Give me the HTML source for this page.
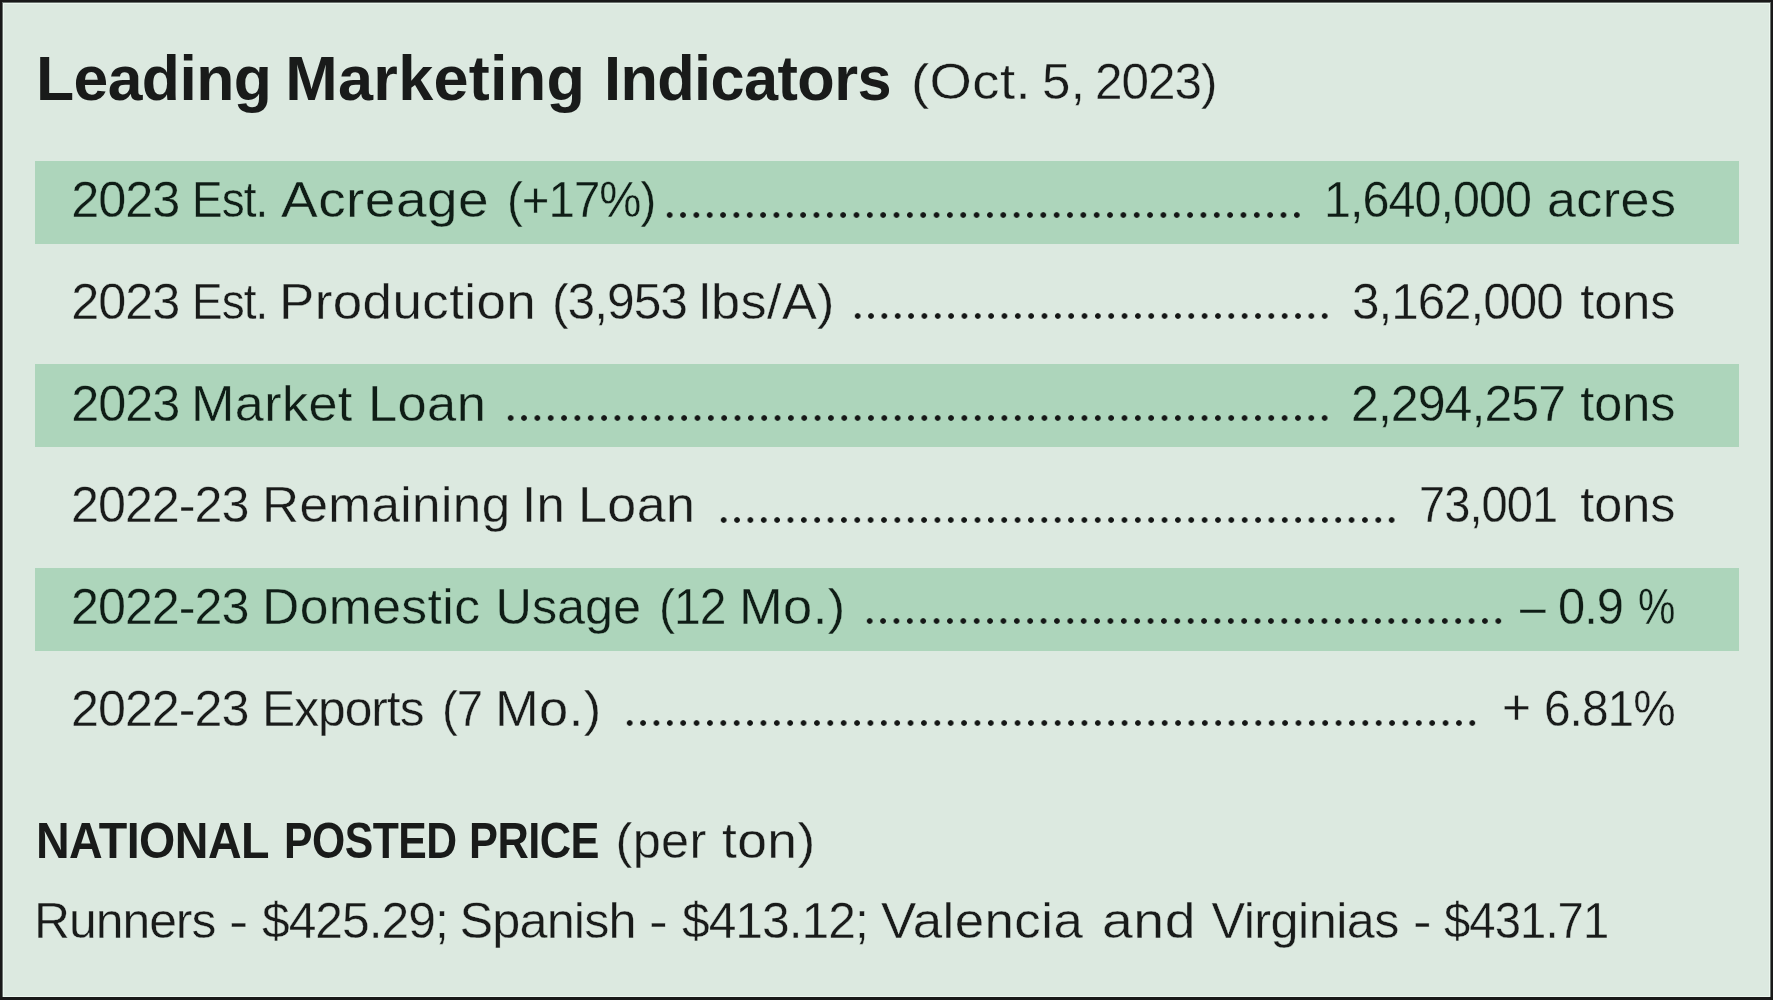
<!DOCTYPE html>
<html><head><meta charset="utf-8"><title>Leading Marketing Indicators</title>
<style>
html,body{margin:0;padding:0}
body{width:1773px;height:1000px;overflow:hidden;background:#dce9e0;position:relative;font-family:"Liberation Sans",sans-serif;color:#191b1a}
.frame{position:absolute;left:0;top:0;width:1773px;height:1000px;box-sizing:border-box;border-style:solid;border-color:#191919;border-width:2px 2px 3px 2px}
.frame2{position:absolute;left:2px;top:2px;width:1769px;height:995px;box-sizing:border-box;border-style:solid;border-color:#6b726e;border-width:1px 1px 0 1px}
.frame3{position:absolute;left:3px;top:3px;width:1767px;height:994px;box-sizing:border-box;border:1px solid #ebf6ee}
.band{position:absolute;left:35px;width:1704px;height:83.3px;background:#add5bb}
.tx{position:absolute;left:0;top:0;width:1773px;height:1000px;will-change:transform}
span{position:absolute;white-space:pre;line-height:1;transform-origin:0 50%}
.r{font-size:50.4px;font-weight:normal;-webkit-text-stroke:0.35px #dce9e0}
.g{-webkit-text-stroke-color:#add5bb;color:#0f1d16}
.b{font-size:50.5px;font-weight:bold}
.t{font-size:63px}
.d{position:absolute;height:8px;background-image:radial-gradient(circle at 50% 50%,#151716 0,#151716 2.4px,rgba(21,23,22,0) 3.2px);background-size:13.36px 8px;background-repeat:repeat-x}
</style></head><body>
<div class="frame"></div><div class="frame2"></div><div class="frame3"></div>
<div class="band" style="top:160.5px"></div>
<div class="band" style="top:364.2px"></div>
<div class="band" style="top:567.8px"></div>
<div class="tx">
<span class="b t" style="left:35.53px;top:46.87px;letter-spacing:-0.60px;transform:scaleX(0.9916)">Leading</span>
<span class="b t" style="left:285.30px;top:46.87px;letter-spacing:0.27px">Marketing</span>
<span class="b t" style="left:603.51px;top:46.87px;letter-spacing:-0.60px;transform:scaleX(0.9723)">Indicators</span>
<span class="r" style="left:910.66px;top:57.14px;letter-spacing:0.40px;transform:scaleX(1.0803)">(Oct.</span>
<span class="r" style="left:1041.67px;top:57.14px;letter-spacing:0.40px;transform:scaleX(1.0130)">5,</span>
<span class="r" style="left:1095.04px;top:57.14px;letter-spacing:-1.00px;transform:scaleX(0.9817)">2023)</span>
<span class="r g" style="left:71.20px;top:175.34px;letter-spacing:-1.00px">2023</span>
<span class="r g" style="left:192.26px;top:175.34px;letter-spacing:-1.00px;transform:scaleX(0.9102)">Est.</span>
<span class="r g" style="left:281.40px;top:175.34px;letter-spacing:0.40px;transform:scaleX(1.0922)">Acreage</span>
<span class="r g" style="left:506.68px;top:175.34px;letter-spacing:-1.00px;transform:scaleX(0.9401)">(+17%)</span>
<span class="r g" style="left:1323.52px;top:175.34px;letter-spacing:-1.00px;transform:scaleX(0.9616)">1,640,000</span>
<span class="r g" style="left:1546.63px;top:175.34px;letter-spacing:0.40px;transform:scaleX(1.0327)">acres</span>
<span class="r" style="left:71.20px;top:277.04px;letter-spacing:-1.00px">2023</span>
<span class="r" style="left:192.26px;top:277.04px;letter-spacing:-1.00px;transform:scaleX(0.9102)">Est.</span>
<span class="r" style="left:278.70px;top:277.04px;letter-spacing:0.40px;transform:scaleX(1.0498)">Production</span>
<span class="r" style="left:551.84px;top:277.04px;letter-spacing:-1.00px;transform:scaleX(0.9860)">(3,953</span>
<span class="r" style="left:698.79px;top:277.04px;letter-spacing:0.40px;transform:scaleX(1.0358)">lbs/A)</span>
<span class="r" style="left:1352.22px;top:277.04px;letter-spacing:-1.00px;transform:scaleX(0.9788)">3,162,000</span>
<span class="r" style="left:1580.20px;top:277.04px;letter-spacing:-0.02px">tons</span>
<span class="r g" style="left:71.20px;top:378.64px;letter-spacing:-1.00px">2023</span>
<span class="r g" style="left:190.76px;top:378.64px;letter-spacing:0.40px;transform:scaleX(1.0342)">Market</span>
<span class="r g" style="left:368.34px;top:378.64px;letter-spacing:0.40px;transform:scaleX(1.0398)">Loan</span>
<span class="r g" style="left:1351.21px;top:378.64px;letter-spacing:-1.00px;transform:scaleX(0.9946)">2,294,257</span>
<span class="r g" style="left:1580.20px;top:378.64px;letter-spacing:-0.02px">tons</span>
<span class="r" style="left:71.11px;top:480.34px;letter-spacing:-1.00px;transform:scaleX(0.9971)">2022-23</span>
<span class="r" style="left:262.13px;top:480.34px;letter-spacing:0.40px;transform:scaleX(1.0166)">Remaining</span>
<span class="r" style="left:522.47px;top:480.34px;letter-spacing:0.40px;transform:scaleX(1.0085)">In</span>
<span class="r" style="left:577.97px;top:480.34px;letter-spacing:0.40px;transform:scaleX(1.0313)">Loan</span>
<span class="r" style="left:1419.03px;top:480.34px;letter-spacing:-1.00px;transform:scaleX(0.9332)">73,001</span>
<span class="r" style="left:1580.20px;top:480.34px;letter-spacing:-0.02px">tons</span>
<span class="r g" style="left:71.11px;top:581.94px;letter-spacing:-1.00px;transform:scaleX(0.9971)">2022-23</span>
<span class="r g" style="left:262.40px;top:581.94px;letter-spacing:0.40px;transform:scaleX(1.0245)">Domestic</span>
<span class="r g" style="left:495.50px;top:581.94px;letter-spacing:-0.01px">Usage</span>
<span class="r g" style="left:659.44px;top:581.94px;letter-spacing:-1.00px;transform:scaleX(0.9528)">(12</span>
<span class="r g" style="left:739.34px;top:581.94px;letter-spacing:0.40px;transform:scaleX(1.0410)">Mo.)</span>
<span class="r g" style="left:1519.50px;top:581.94px;transform:scaleX(0.9179)">–</span>
<span class="r g" style="left:1557.93px;top:581.94px;letter-spacing:-1.00px;transform:scaleX(0.9689)">0.9</span>
<span class="r g" style="left:1638.17px;top:581.94px;transform:scaleX(0.8349)">%</span>
<span class="r" style="left:71.11px;top:683.64px;letter-spacing:-1.00px;transform:scaleX(0.9971)">2022-23</span>
<span class="r" style="left:262.26px;top:683.64px;letter-spacing:-1.00px;transform:scaleX(0.9860)">Exports</span>
<span class="r" style="left:442.08px;top:683.64px;letter-spacing:-1.00px;transform:scaleX(0.9386)">(7</span>
<span class="r" style="left:494.84px;top:683.64px;letter-spacing:0.40px;transform:scaleX(1.0410)">Mo.)</span>
<span class="r" style="left:1501.73px;top:682.34px;transform:scaleX(0.9840)">+</span>
<span class="r" style="left:1544.00px;top:683.64px;letter-spacing:-1.00px;transform:scaleX(0.9480)">6.81%</span>
<span class="b" style="left:35.53px;top:815.65px;letter-spacing:-0.60px;transform:scaleX(0.9230)">NATIONAL</span>
<span class="b" style="left:283.96px;top:815.65px;letter-spacing:-0.60px;transform:scaleX(0.8453)">POSTED</span>
<span class="b" style="left:468.82px;top:815.65px;letter-spacing:-0.60px;transform:scaleX(0.8591)">PRICE</span>
<span class="r" style="left:615.50px;top:815.74px;letter-spacing:0.36px">(per</span>
<span class="r" style="left:722.40px;top:815.74px;letter-spacing:0.40px;transform:scaleX(1.0592)">ton)</span>
<span class="r" style="left:33.85px;top:895.54px;letter-spacing:-1.00px;transform:scaleX(0.9885)">Runners</span>
<span class="r" style="left:228.69px;top:895.54px;transform:scaleX(1.1538)">-</span>
<span class="r" style="left:262.00px;top:895.54px;letter-spacing:-1.00px;transform:scaleX(0.9873)">$425.29;</span>
<span class="r" style="left:459.50px;top:895.54px;letter-spacing:-0.83px">Spanish</span>
<span class="r" style="left:649.27px;top:895.54px;transform:scaleX(1.1154)">-</span>
<span class="r" style="left:682.00px;top:895.54px;letter-spacing:-1.00px;transform:scaleX(0.9873)">$413.12;</span>
<span class="r" style="left:881.00px;top:895.54px;letter-spacing:0.40px;transform:scaleX(1.0490)">Valencia</span>
<span class="r" style="left:1101.90px;top:895.54px;letter-spacing:0.48px;transform:scaleX(1.1000)">and</span>
<span class="r" style="left:1211.50px;top:895.54px;letter-spacing:-0.54px">Virginias</span>
<span class="r" style="left:1413.28px;top:895.54px;transform:scaleX(1.1077)">-</span>
<span class="r" style="left:1443.90px;top:895.54px;letter-spacing:-1.00px;transform:scaleX(0.9378)">$431.71</span>
</div>
<div class="d" style="left:663.42px;top:210.70px;width:641.16px;background-size:13.357px 8px"></div>
<div class="d" style="left:850.92px;top:312.40px;width:480.65px;background-size:13.351px 8px"></div>
<div class="d" style="left:503.52px;top:414.00px;width:828.06px;background-size:13.356px 8px"></div>
<div class="d" style="left:717.12px;top:515.70px;width:681.36px;background-size:13.360px 8px"></div>
<div class="d" style="left:863.41px;top:617.30px;width:642.28px;background-size:13.381px 8px"></div>
<div class="d" style="left:623.11px;top:719.00px;width:856.28px;background-size:13.379px 8px"></div>
</body></html>
